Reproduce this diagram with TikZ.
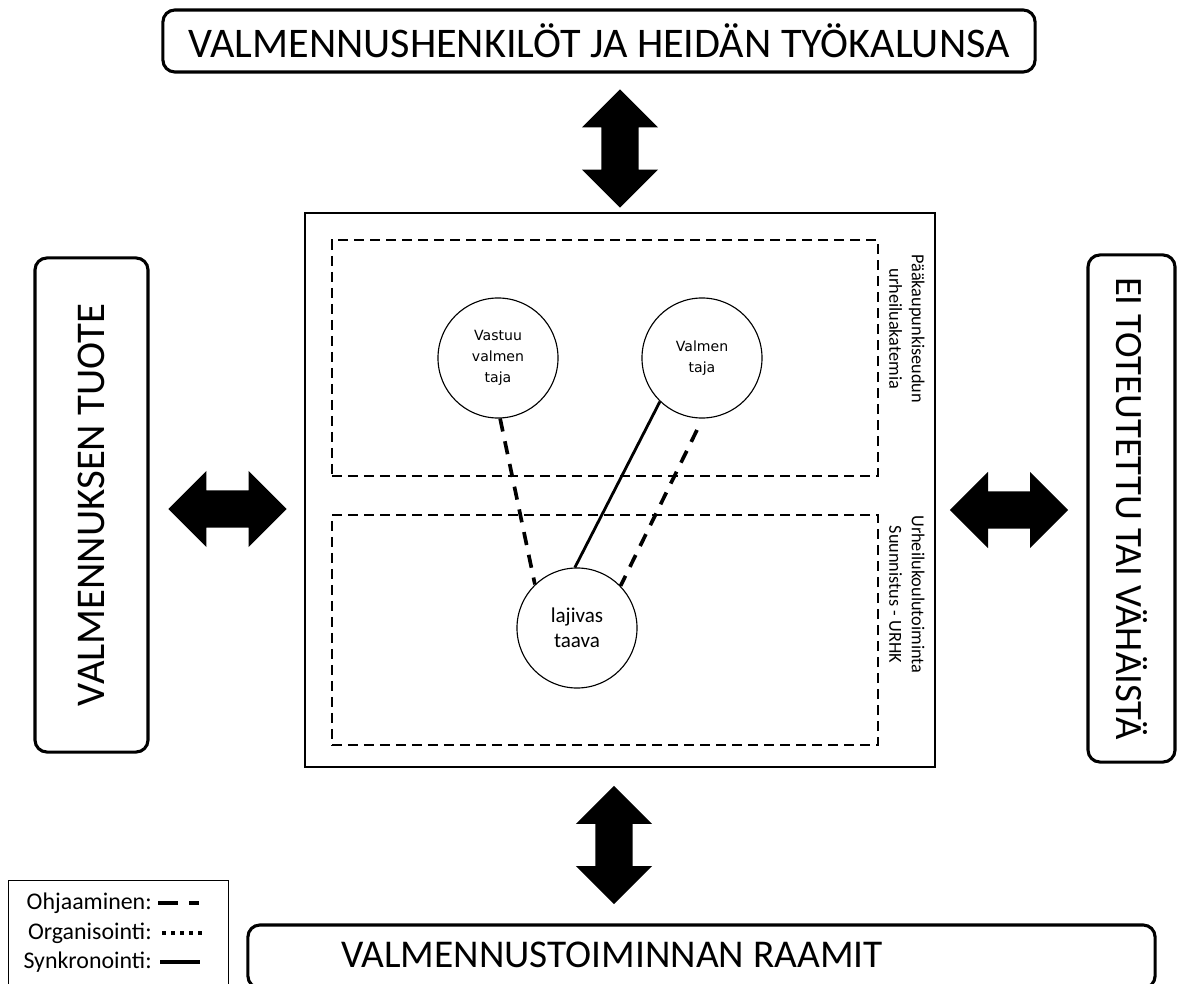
\documentclass[tikz,border=0pt]{standalone}
\usepackage{fontspec}
\setmainfont{Carlito}
\newfontfamily\circfont{DejaVu Sans}
\usetikzlibrary{positioning, shapes.arrows}
\tikzset{bigbox/.style={draw=black, line width=2.2pt, rounded corners=0.3cm, inner sep=0pt, font=\fontsize{29}{32}\selectfont}}
\tikzset{areabox/.style={draw=black, line width=1.3pt, dash pattern=on 0.25cm off 0.15cm}}
\tikzset{arealabel/.style={rotate=-90, align=center, inner sep=0pt, font=\fontsize{13}{16}\selectfont}}
\tikzset{person/.style={circle, draw=black, line width=0.8pt, minimum size=3cm, align=center, inner sep=0pt, font=\circfont\fontsize{10}{15}\selectfont}}
\tikzset{guide/.style={line width=2.6pt, dash pattern=on 0.33cm off 0.25cm}}
\tikzset{sync/.style={line width=2pt}}
\tikzset{fatarrow/.style={double arrow, fill=black, inner xsep=0pt, inner ysep=0.45cm, minimum width=1.9cm, minimum height=2.95cm, double arrow head extend=0.475cm}}
\tikzset{legtext/.style={inner sep=0pt, font=\fontsize{17}{19}\selectfont}}

\begin{document}
\begin{tikzpicture}[x=0.025cm, y=-0.025cm]
  \useasboundingbox (0,0) rectangle (1193,984);
  %Outer boxes
  \node[bigbox, font=\fontsize{30}{32}\selectfont, minimum width=21.8cm, minimum height=1.55cm] (staff) at (599,41) {VALMENNUSHENKILÖT JA HEIDÄN TYÖKALUNSA};
  \node[bigbox, rotate=90, minimum width=12.35cm, minimum height=2.825cm] (product) at (91.5,505) {VALMENNUKSEN TUOTE};
  \node[bigbox, rotate=-90, font=\fontsize{27.5}{30}\selectfont, minimum width=12.675cm, minimum height=2.175cm] (none) at (1131.5,508.5) {EI TOTEUTETTU TAI VÄHÄISTÄ};
  \node[bigbox, minimum width=22.675cm, minimum height=1.575cm] (frame) at (701.5,956.5) {};
  \node[inner sep=0pt, font=\fontsize{28}{30}\selectfont] (framelabel) at (612,955) {VALMENNUSTOIMINNAN RAAMIT};
  % Centre
  \node[draw=black, line width=1.2pt, minimum width=15.75cm, minimum height=13.85cm] (core) at (620,490) {};
  \node[areabox, minimum width=13.65cm, minimum height=5.9cm] (academy) at (605,358) {};
  \node[areabox, minimum width=13.65cm, minimum height=5.75cm] (school) at (605,630) {};
  \node[arealabel, anchor=west] (academylabel) at (907,254) {Pääkaupunkiseudun\\urheiluakatemia};
  \node[arealabel, anchor=west] (schoollabel) at (907,515) {Urheilukoulutoiminta\\Suunnistus - URHK};
  % People
  \node[person] (vastuu) at (498,358) {Vastuu\\valmen\\taja};
  \node[person] (valmen) at (702,358) {Valmen\\taja};
  \node[person, font=\fontsize{15}{18}\selectfont] (lajivas) at (577,628) {lajivas\\taava};
  % Links
  \coordinate (gap) at (697,430);
  \draw[guide] (vastuu.-88) -- (lajivas.134);
  \draw[sync] (valmen.226) -- (lajivas.92);
  \draw[guide] (gap) -- (lajivas.44);
  % Arrows
  \node[fatarrow, rotate=90] (uparrow) at (620,148.5) {};
  \node[fatarrow] (leftarrow) at (227.5,509) {};
  \node[fatarrow] (rightarrow) at (1009,510) {};
  \node[fatarrow, rotate=90] (downarrow) at (614,845) {};
  % Legend
  \node[draw=black, line width=0.8pt, minimum width=5.5cm, minimum height=2.75cm, anchor=north west] (legend) at (8,880) {};
  \node[legtext, anchor=east] (guidekey) at (152,903) {Ohjaaminen:};
  \node[legtext, anchor=east] (orgkey) at (152,933) {Organisointi:};
  \node[legtext, anchor=east] (synckey) at (152,962) {Synkronointi:};
  \draw[line width=2.6pt, dash pattern=on 0.5cm off 0.275cm on 0.25cm off 1cm] ([xshift=0.15cm]guidekey.east) -- ++(42,0);
  \draw[line width=2.6pt, dash pattern=on 0.1cm off 0.125cm] ([xshift=0.25cm]orgkey.east) -- ++(42,0);
  \draw[sync, line width=2.6pt] ([xshift=0.2cm]synckey.east) -- ++(40,0);
\end{tikzpicture}
\end{document}
